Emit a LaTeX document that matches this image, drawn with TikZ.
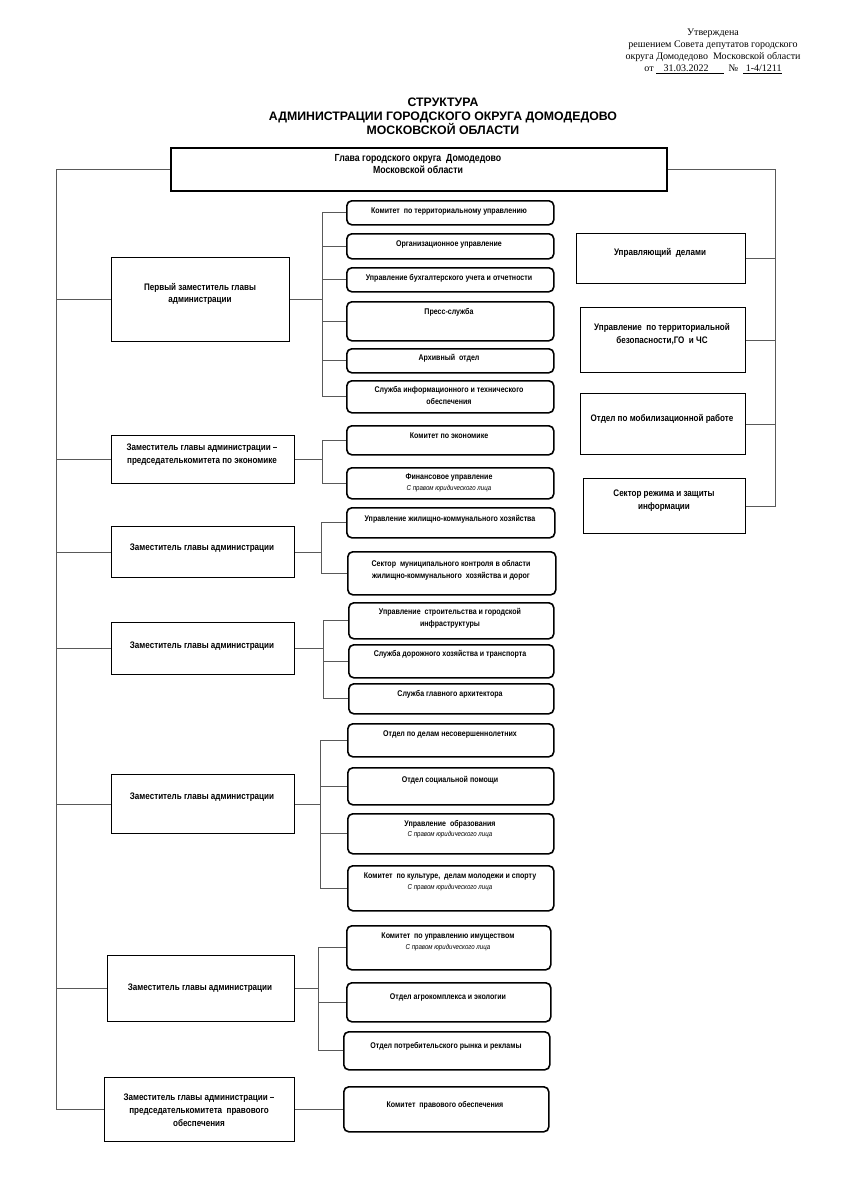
\documentclass[tikz,border=0pt]{standalone}
\usepackage{fontspec}
\setmainfont{Liberation Sans}[FakeStretch=0.85]
\newfontfamily\serifrm{Liberation Serif}
\newfontfamily\titlefont{Liberation Sans}
\usetikzlibrary{calc}

\tikzset{
  post/.style={draw, line width=1.4pt, inner sep=0pt, anchor=north west},
  unit/.style={draw, line width=1.6pt, rounded corners=5pt, inner sep=0pt, anchor=north west},
  txt/.style={font=\bfseries\fontsize{8.3}{12}\selectfont, align=center, inner sep=0pt},
  bigtxt/.style={txt, font=\bfseries\fontsize{9.5}{12.8}\selectfont},
  link/.style={draw=black!65, line width=0.7pt}
}
\newcommand{\jur}{\\[-1.5pt]{\normalfont\itshape\fontsize{7.2}{8}\selectfont С правом юридического лица}}

\begin{document}
\begin{tikzpicture}[x=1pt, y=-1pt]
\useasboundingbox (0,0) rectangle (843,1191);

% ============================================================
% Header
% ============================================================
\node[align=center, font=\serifrm\fontsize{10}{12}\selectfont, inner sep=0pt] (approved) at (713,51)
  {Утверждена\\решением Совета депутатов городского\\округа Домодедово~~Московской области\\
   от \underline{~~~31.03.2022~~~~~~}~ № ~\underline{~1-4/1211}};
\node[align=center, font=\titlefont\bfseries\fontsize{12.3}{13.8}\selectfont, inner sep=0pt] (title) at (443,116)
  {СТРУКТУРА\\АДМИНИСТРАЦИИ ГОРОДСКОГО ОКРУГА ДОМОДЕДОВО\\МОСКОВСКОЙ ОБЛАСТИ};

% Head
\node[post, line width=1.8pt, minimum width=496pt, minimum height=43pt] (head) at (170,147) {};
\node[txt, font=\bfseries\fontsize{10.3}{12}\selectfont] (head-t) at (418,164) {Глава городского округа~ Домодедово\\Московской области};

% trunk positions
\coordinate (trunkL) at (56,0);
\coordinate (trunkR) at (775,0);

% ============================================================
% Deputies (left column)
% ============================================================
\node[post, minimum width=178pt, minimum height=84pt] (d1) at (111,257) {};
\node[bigtxt] (d1-t) at (200,294) {Первый заместитель главы\\администрации};
\node[post, minimum width=183pt, minimum height=48pt] (d2) at (111,435) {};
\node[bigtxt] (d2-t) at (202,455) {Заместитель главы администрации –\\председателькомитета по экономике};
\node[post, minimum width=183pt, minimum height=51pt] (d3) at (111,526) {};
\node[bigtxt] (d3-t) at (202,548) {Заместитель главы администрации};
\node[post, minimum width=183pt, minimum height=52pt] (d4) at (111,622) {};
\node[bigtxt] (d4-t) at (202,646) {Заместитель главы администрации};
\node[post, minimum width=183pt, minimum height=59pt] (d5) at (111,774) {};
\node[bigtxt] (d5-t) at (202,797) {Заместитель главы администрации};
\node[post, minimum width=187pt, minimum height=66pt] (d6) at (107,955) {};
\node[bigtxt] (d6-t) at (200,988) {Заместитель главы администрации};
\node[post, minimum width=190pt, minimum height=64pt] (d7) at (104,1077) {};
\node[bigtxt] (d7-t) at (199,1110) {Заместитель главы администрации –\\председателькомитета~ правового\\обеспечения};

% ============================================================
% Subordinate units
% ============================================================
% first deputy
\node[unit, minimum width=207pt, minimum height=24pt] (s1) at (346,200) {};
\node[txt] (s1-t) at (449,212) {Комитет~ по территориальному управлению};
\node[unit, minimum width=207pt, minimum height=25pt] (s2) at (346,233) {};
\node[txt] (s2-t) at (449,244) {Организационное управление};
\node[unit, minimum width=207pt, minimum height=24pt] (s3) at (346,267) {};
\node[txt] (s3-t) at (449,278) {Управление бухгалтерского учета и отчетности};
\node[unit, minimum width=207pt, minimum height=39pt] (s4) at (346,301) {};
\node[txt] (s4-t) at (449,312) {Пресс-служба};
\node[unit, minimum width=207pt, minimum height=24pt] (s5) at (346,348) {};
\node[txt] (s5-t) at (449,358) {Архивный~ отдел};
\node[unit, minimum width=207pt, minimum height=32pt] (s6) at (346,380) {};
\node[txt] (s6-t) at (449,395) {Служба информационного и технического\\обеспечения};

% economy
\node[unit, minimum width=207pt, minimum height=29pt] (e1) at (346,425) {};
\node[txt] (e1-t) at (449,436) {Комитет по экономике};
\node[unit, minimum width=207pt, minimum height=31pt] (e2) at (346,467) {};
\node[txt] (e2-t) at (449,483) {Финансовое управление\jur};

% housing
\node[unit, minimum width=208pt, minimum height=30pt] (h1) at (346,507) {};
\node[txt] (h1-t) at (450,519) {Управление жилищно-коммунального хозяйства};
\node[unit, minimum width=208pt, minimum height=43pt] (h2) at (347,551) {};
\node[txt] (h2-t) at (451,570) {Сектор~ муниципального контроля в области\\жилищно-коммунального~ хозяйства и дорог};

% construction
\node[unit, minimum width=205pt, minimum height=36pt] (c1) at (348,602) {};
\node[txt] (c1-t) at (450,618) {Управление~ строительства и городской\\инфраструктуры};
\node[unit, minimum width=205pt, minimum height=33pt] (c2) at (348,644) {};
\node[txt] (c2-t) at (450,654) {Служба дорожного хозяйства и транспорта};
\node[unit, minimum width=205pt, minimum height=30pt] (c3) at (348,683) {};
\node[txt] (c3-t) at (450,694) {Служба главного архитектора};

% social
\node[unit, minimum width=206pt, minimum height=33pt] (p1) at (347,723) {};
\node[txt] (p1-t) at (450,734) {Отдел по делам несовершеннолетних};
\node[unit, minimum width=206pt, minimum height=37pt] (p2) at (347,767) {};
\node[txt] (p2-t) at (450,780) {Отдел социальной помощи};
\node[unit, minimum width=206pt, minimum height=40pt] (p3) at (347,813) {};
\node[txt] (p3-t) at (450,829) {Управление~ образования\jur};
\node[unit, minimum width=206pt, minimum height=45pt] (p4) at (347,865) {};
\node[txt] (p4-t) at (450,882) {Комитет~ по культуре,~ делам молодежи и спорту\jur};

% property
\node[unit, minimum width=204pt, minimum height=44pt] (i1) at (346,925) {};
\node[txt] (i1-t) at (448,942) {Комитет~ по управлению имуществом\jur};
\node[unit, minimum width=204pt, minimum height=39pt] (i2) at (346,982) {};
\node[txt] (i2-t) at (448,997) {Отдел агрокомплекса и экологии};
\node[unit, minimum width=206pt, minimum height=38pt] (i3) at (343,1031) {};
\node[txt] (i3-t) at (446,1046) {Отдел потребительского рынка и рекламы};

% legal
\node[unit, minimum width=205pt, minimum height=45pt] (j1) at (343,1086) {};
\node[txt] (j1-t) at (445,1105) {Комитет~ правового обеспечения};

% ============================================================
% Right column
% ============================================================
\node[post, minimum width=169pt, minimum height=50pt] (r1) at (576,233) {};
\node[bigtxt] (r1-t) at (660,253) {Управляющий~ делами};
\node[post, minimum width=165pt, minimum height=65pt] (r2) at (580,307) {};
\node[bigtxt] (r2-t) at (662,334) {Управление~ по территориальной\\безопасности,ГО~ и ЧС};
\node[post, minimum width=165pt, minimum height=61pt] (r3) at (580,393) {};
\node[bigtxt] (r3-t) at (662,419) {Отдел по мобилизационной работе};
\node[post, minimum width=162pt, minimum height=55pt] (r4) at (583,478) {};
\node[bigtxt] (r4-t) at (664,501) {Сектор режима и защиты\\информации};

% ============================================================
% Connectors
% ============================================================
% trunks
\draw[link] (head.west) -| (trunkL |- d7.west) -- (d7.west);
\foreach \d in {d1, d2, d3, d4, d5, d6} {
  \draw[link] (trunkL |- \d.west) -- (\d.west);
}
\draw[link] (head.east) -| (trunkR |- r4.east) -- (r4.east);
\foreach \r in {r1, r2, r3} {
  \draw[link] (trunkR |- \r.east) -- (\r.east);
}

% sub-buses: deputy / bus x / first / last / units
\foreach \d/\bx/\first/\last/\units in {
    d1/322/s1/s6/{s1,s2,s3,s4,s5,s6},
    d2/322/e1/e2/{e1,e2},
    d3/321/h1/h2/{h1,h2},
    d4/323/c1/c3/{c1,c2,c3},
    d5/320/p1/p4/{p1,p2,p3,p4},
    d6/318/i1/i3/{i1,i2,i3}} {
  \coordinate (bus-\d) at (\bx,0);
  \draw[link] (bus-\d |- \first.west) -- (bus-\d |- \last.west);
  \draw[link] (\d.east) -- (bus-\d |- \d.east);
  \foreach \u in \units {
    \draw[link] (bus-\d |- \u.west) -- (\u.west);
  }
}
\draw[link] (d7.east) -- (d7.east -| j1.west);

\end{tikzpicture}
\end{document}
